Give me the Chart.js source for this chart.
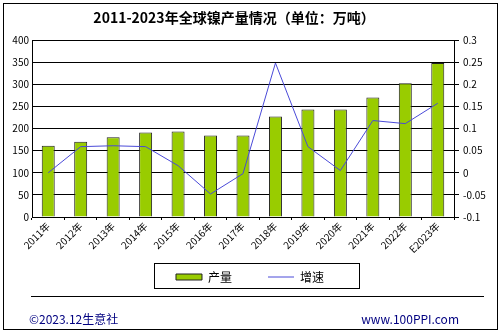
<!DOCTYPE html>
<html lang="zh">
  <head>
    <meta charset="UTF-8" />
    <title>全球镍产量</title>
    <script src="https://cdn.jsdelivr.net/npm/chart.js"></script>
    <style>
      body { margin: 0; background: #fff; }
      #wrap { width: 500px; height: 333px; }
    </style>
  </head>
  <body>
    <div id="wrap"><canvas id="myChart" width="500" height="333"></canvas></div>
    <script>
      const years = ["2011年", "2012年", "2013年", "2014年", "2015年", "2016年", "2017年",
        "2018年", "2019年", "2020年", "2021年", "2022年", "E2023年"];
      const output = [161, 170, 180, 191, 193, 184, 184, 227, 243, 243, 270, 302, 348];
      const growth = [0.0, 0.059, 0.061, 0.059, 0.016, -0.048, -0.002, 0.248, 0.059, 0.005, 0.118, 0.111, 0.157];

      const FONT = "'Noto Sans CJK SC', 'DejaVu Sans', sans-serif";

      // frame, title, legend box and footer
      const decor = {
        id: "decor",
        afterDraw(chart) {
          const ctx = chart.ctx;
          ctx.save();
          ctx.strokeStyle = "#000";
          ctx.lineWidth = 1;
          ctx.strokeRect(3.5, 3.5, 494, 326);

          ctx.fillStyle = "#000";
          ctx.font = "bold 14px " + FONT;
          ctx.textAlign = "center";
          ctx.textBaseline = "middle";
          ctx.fillText("2011-2023年全球镍产量情况（单位：万吨）", 234, 18);

          const lg = chart.legend;
          ctx.strokeRect(154.5, Math.round(lg.top) + 4.5, 205, 25);

          ctx.beginPath();
          ctx.moveTo(31, 296.5);
          ctx.lineTo(484, 296.5);
          ctx.stroke();

          ctx.fillStyle = "#000080";
          ctx.font = "12px " + FONT;
          ctx.textAlign = "left";
          ctx.fillText("©2023.12生意社", 29, 319);
          ctx.textAlign = "right";
          ctx.fillText("www.100PPI.com", 459, 319);
          ctx.restore();
        },
      };

      new Chart(document.getElementById("myChart"), {
        data: {
          labels: years,
          datasets: [
            {
              type: "line",
              label: "增速",
              data: growth,
              yAxisID: "y1",
              borderColor: "#4a4ad8",
              borderWidth: 1,
              pointRadius: 0,
              pointStyle: "line",
              tension: 0,
              order: 0,
            },
            {
              type: "bar",
              label: "产量",
              data: output,
              yAxisID: "y",
              backgroundColor: "#99cc00",
              borderColor: "#222",
              borderWidth: 1,
              pointStyle: "rect",
              barPercentage: 0.4,
              categoryPercentage: 1,
              order: 1,
            },
          ],
        },
        options: {
          responsive: false,
          animation: false,
          layout: { padding: { left: 4, right: 4, top: 40, bottom: 40 } },
          plugins: {
            title: { display: false },
            tooltip: { enabled: false },
            legend: {
              position: "bottom",
              reverse: true,
              labels: {
                usePointStyle: true,
                pointStyleWidth: 26,
                boxHeight: 6,
                padding: 12,
                color: "#000",
                font: { family: FONT, size: 12 },
                generateLabels(chart) {
                  const items = Chart.defaults.plugins.legend.labels.generateLabels(chart);
                  items.forEach((it) => {
                    if (it.text === "产量") it.text = "产量\u3000\u3000";
                  });
                  return items;
                },
              },
            },
          },
          scales: {
            x: {
              offset: true,
              grid: { display: true, offset: true, drawOnChartArea: false, color: "#000", tickLength: 3 },
              border: { color: "#000" },
              ticks: { minRotation: 45, maxRotation: 45, color: "#000", font: { family: FONT, size: 10 }, padding: 0 },
              afterFit(s) { s.height = 42; },
            },
            y: {
              position: "left",
              min: 0,
              max: 400,
              ticks: { stepSize: 50, color: "#000", font: { family: FONT, size: 10 }, padding: 3 },
              grid: { color: "#000", tickLength: 0 },
              border: { color: "#000" },
              afterFit(s) { s.width = 28; },
            },
            y1: {
              position: "right",
              min: -0.1,
              max: 0.3,
              ticks: {
                stepSize: 0.05,
                color: "#000",
                font: { family: FONT, size: 10 },
                padding: 4,
                callback: (v) => String(+v.toFixed(2)),
              },
              grid: { drawOnChartArea: false, color: "#000", tickLength: 5 },
              border: { color: "#000" },
              afterFit(s) { s.width = 42; },
            },
          },
        },
        plugins: [decor],
      });
    </script>
  </body>
</html>
